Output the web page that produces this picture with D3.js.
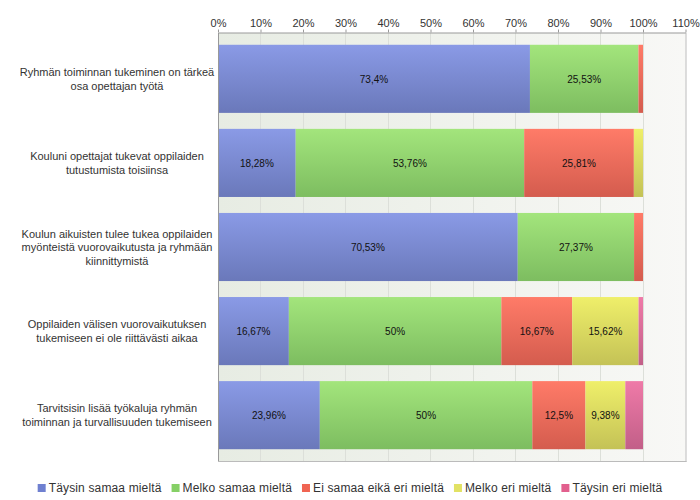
<!DOCTYPE html>
<html><head><meta charset="utf-8">
<script src="https://cdn.jsdelivr.net/npm/d3@7"></script>
<style>body{margin:0;background:#fff;} svg{display:block;font-family:"Liberation Sans",Arial,sans-serif;}</style>
</head><body><svg id="c" width="700" height="500"></svg>
<script>
const categories = [
  ["Ryhmän toiminnan tukeminen on tärkeä","osa opettajan työtä"],
  ["Kouluni opettajat tukevat oppilaiden","tutustumista toisiinsa"],
  ["Koulun aikuisten tulee tukea oppilaiden","myönteistä vuorovaikutusta ja ryhmään","kiinnittymistä"],
  ["Oppilaiden välisen vuorovaikutuksen","tukemiseen ei ole riittävästi aikaa"],
  ["Tarvitsisin lisää työkaluja ryhmän","toiminnan ja turvallisuuden tukemiseen"]
];
const seriesNames = ["Täysin samaa mieltä","Melko samaa mieltä","Ei samaa eikä eri mieltä","Melko eri mieltä","Täysin eri mieltä"];
const taysinSamaa = [73.4, 18.28, 70.53, 16.67, 23.96];
const melkoSamaa  = [25.53, 53.76, 27.37, 50, 50];
const eiSamaaEri  = [1.07, 25.81, 2.1, 16.67, 12.5];
const melkoEri    = [0, 2.15, 0, 15.62, 9.38];
const taysinEri   = [0, 0, 0, 1.04, 4.16];
const tickValues = [0,10,20,30,40,50,60,70,80,90,100,110];

const series = [taysinSamaa, melkoSamaa, eiSamaaEri, melkoEri, taysinEri];
const gradColors = [["#8a9ae6","#6a78ba"],["#a3e57c","#7dbd60"],["#ff7b68","#d45c4e"],["#efef6a","#c4c256"],["#ef7aa8","#c25f88"]];
const legendColors = ["#6f80d0","#86d066","#f06452","#e2e264","#e2608e"];

const svg = d3.select("#c");
const pLeft = 218, pRight = 685.5, pTop = 33, pBottom = 461;
const x = d3.scaleLinear().domain([0,110]).range([pLeft,pRight]);
const y = d3.scaleBand().domain(d3.range(categories.length)).range([pTop,pBottom]).paddingInner(0.19).paddingOuter(0.14);

const defs = svg.append("defs");
const bg = defs.append("linearGradient").attr("id","bg").attr("x1","0").attr("x2","1").attr("y1","0").attr("y2","0");
bg.append("stop").attr("offset","0").attr("stop-color","#e7ece3");
bg.append("stop").attr("offset","1").attr("stop-color","#f8f8f6");
gradColors.forEach((c,i)=>{
  const g = defs.append("linearGradient").attr("id","g"+i).attr("x1","0").attr("x2","0").attr("y1","0").attr("y2","1");
  g.append("stop").attr("offset","0").attr("stop-color",c[0]);
  g.append("stop").attr("offset","1").attr("stop-color",c[1]);
});

svg.append("rect").attr("x",pLeft).attr("y",pTop).attr("width",pRight-pLeft).attr("height",pBottom-pTop).attr("fill","url(#bg)");

// gridlines
svg.append("g").selectAll("line").data(tickValues.slice(1,-1)).join("line")
  .attr("x1",d=>x(d)).attr("x2",d=>x(d)).attr("y1",pTop).attr("y2",pBottom)
  .attr("stroke","#dcdfd9").attr("stroke-width",1).attr("shape-rendering","crispEdges");

// top axis
const axis = d3.axisTop(x).tickValues(tickValues).tickFormat(d=>d+"%").tickSize(3).tickPadding(3).tickSizeOuter(0);
const ag = svg.append("g").attr("transform",`translate(0,${pTop-0.5})`).call(axis);
ag.select(".domain").attr("stroke","#999");
ag.selectAll(".tick line").attr("stroke","#999");
ag.selectAll(".tick text").attr("fill","#333").attr("font-size","11px").attr("font-family","Liberation Sans, Arial, sans-serif");

// bars
const stacked = categories.map((c,i)=>{
  let acc = 0;
  return series.map((s,k)=>{ const v = s[i]; const seg={row:i,k,x0:acc,x1:acc+v,v}; acc+=v; return seg; });
}).flat().filter(d=>d.v>0);

svg.append("g").selectAll("rect").data(stacked).join("rect")
  .attr("x",d=>x(d.x0)).attr("width",d=>x(d.x1)-x(d.x0))
  .attr("y",d=>y(d.row)).attr("height",y.bandwidth())
  .attr("fill",d=>"url(#g"+d.k+")");

svg.append("g").selectAll("text").data(stacked.filter(d=>d.v>=5)).join("text")
  .attr("x",d=>(x(d.x0)+x(d.x1))/2).attr("y",d=>y(d.row)+y.bandwidth()/2+4)
  .attr("text-anchor","middle").attr("font-size","10px").attr("fill","#111")
  .text(d=>String(d.v).replace(".",",")+"%");

// borders
svg.append("line").attr("x1",pLeft).attr("x2",pLeft).attr("y1",pTop).attr("y2",pBottom+0.5).attr("stroke","#999").attr("shape-rendering","crispEdges");
svg.append("line").attr("x1",pLeft).attr("x2",pRight+1).attr("y1",pBottom+0.5).attr("y2",pBottom+0.5).attr("stroke","#bbb");
svg.append("line").attr("x1",pRight+0.5).attr("x2",pRight+0.5).attr("y1",pTop).attr("y2",pBottom+1).attr("stroke","#bbb");

// category labels
categories.forEach((lines,i)=>{
  const cy = y(i)+y.bandwidth()/2;
  const lh = 13.5;
  const t = svg.append("text").attr("text-anchor","middle").attr("font-size","11px").attr("fill","#333");
  lines.forEach((l,j)=>{
    t.append("tspan").attr("x",117).attr("y",cy + (j-(lines.length-1)/2)*lh + 4).text(l);
  });
});

// legend
const lg = svg.append("g");
let lx = 0;
seriesNames.forEach((n,i)=>{
  const g = lg.append("g").attr("transform",`translate(${lx},0)`);
  g.append("rect").attr("x",0).attr("y",-4).attr("width",8).attr("height",8).attr("fill",legendColors[i]);
  const t = g.append("text").attr("x",11).attr("y",4).attr("font-size","12px").attr("letter-spacing","0.15px").attr("fill","#333").text(n);
  lx += 11 + t.node().getComputedTextLength() + 10;
});
lg.attr("transform",`translate(${(700-(lx-10))/2},488)`);
</script></body></html>
